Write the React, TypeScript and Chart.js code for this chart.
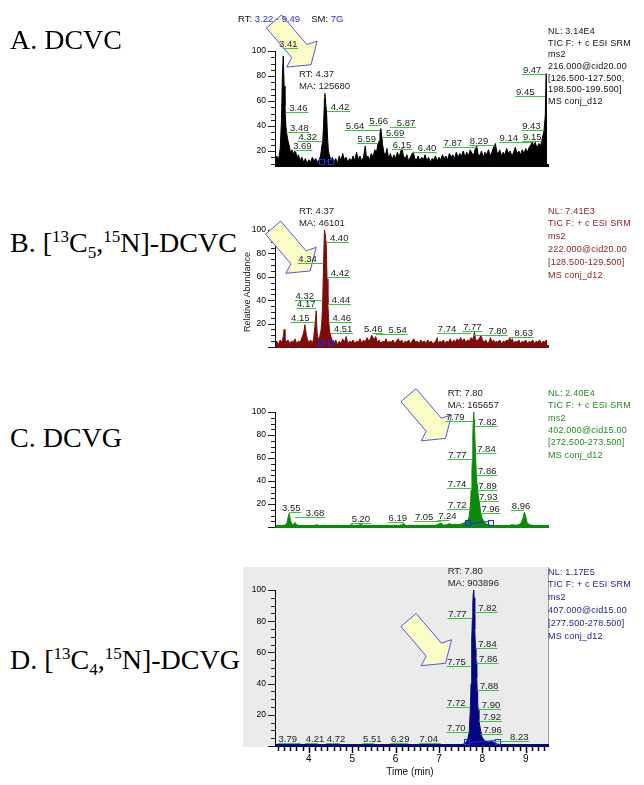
import React, { useEffect, useRef } from "react";
import { Chart, registerables } from "chart.js";
Chart.register(...registerables);

const T_MIN = 3.22;
const T_MAX = 9.49;
const Y_TICKS = [20, 40, 60, 80, 100];
const X_TICKS = [4, 5, 6, 7, 8, 9];

// ---- chromatogram traces: [time (min), relative abundance %] ----
const traceA: [number, number][] = [
  [3.22, 12], [3.26, 16], [3.30, 13], [3.34, 22], [3.37, 45], [3.39, 80], [3.41, 96], [3.43, 72], [3.45, 56], [3.47, 40],
  [3.49, 34], [3.52, 28], [3.55, 24], [3.58, 18], [3.61, 21], [3.64, 17], [3.67, 20], [3.70, 19], [3.73, 14], [3.76, 17],
  [3.80, 12], [3.84, 15], [3.88, 11], [3.92, 14], [3.96, 10], [4.00, 13], [4.04, 11], [4.08, 15], [4.12, 12], [4.16, 14],
  [4.20, 11], [4.24, 13], [4.27, 16], [4.30, 24], [4.32, 28], [4.34, 40], [4.36, 62], [4.37, 66], [4.39, 58], [4.41, 50],
  [4.43, 32], [4.45, 20], [4.48, 16], [4.51, 12], [4.54, 15], [4.58, 11], [4.62, 14], [4.66, 10], [4.70, 16], [4.74, 12],
  [4.78, 18], [4.82, 13], [4.86, 15], [4.90, 11], [4.94, 14], [4.98, 12], [5.02, 16], [5.06, 12], [5.10, 19], [5.14, 13],
  [5.18, 16], [5.22, 12], [5.26, 15], [5.30, 24], [5.33, 14], [5.36, 16], [5.40, 13], [5.44, 18], [5.48, 15], [5.52, 21],
  [5.56, 19], [5.59, 25], [5.62, 28], [5.64, 34], [5.66, 38], [5.68, 32], [5.70, 25], [5.73, 19], [5.76, 16], [5.80, 22],
  [5.84, 14], [5.88, 18], [5.92, 13], [5.96, 17], [6.00, 14], [6.04, 19], [6.08, 15], [6.12, 20], [6.15, 22], [6.18, 16],
  [6.22, 14], [6.26, 17], [6.30, 12], [6.34, 15], [6.38, 18], [6.41, 19], [6.44, 14], [6.48, 13], [6.52, 16], [6.56, 12],
  [6.60, 15], [6.64, 13], [6.68, 17], [6.72, 12], [6.76, 15], [6.80, 11], [6.84, 14], [6.88, 13], [6.92, 16], [6.96, 12],
  [7.00, 15], [7.04, 13], [7.08, 17], [7.12, 14], [7.16, 16], [7.20, 13], [7.24, 18], [7.28, 15], [7.32, 17], [7.36, 14],
  [7.40, 19], [7.44, 15], [7.48, 18], [7.52, 16], [7.56, 20], [7.60, 15], [7.64, 19], [7.68, 16], [7.72, 21], [7.76, 18],
  [7.80, 17], [7.84, 22], [7.87, 24], [7.90, 18], [7.94, 16], [7.98, 20], [8.02, 15], [8.06, 19], [8.10, 17], [8.14, 21],
  [8.18, 16], [8.22, 19], [8.26, 23], [8.30, 26], [8.33, 20], [8.36, 17], [8.40, 21], [8.44, 16], [8.48, 19], [8.52, 17],
  [8.56, 22], [8.60, 18], [8.64, 20], [8.68, 16], [8.72, 19], [8.76, 23], [8.80, 18], [8.84, 20], [8.88, 17], [8.92, 21],
  [8.96, 18], [9.00, 22], [9.04, 19], [9.08, 23], [9.12, 25], [9.15, 28], [9.18, 24], [9.22, 27], [9.26, 22], [9.30, 26],
  [9.34, 24], [9.38, 30], [9.42, 36], [9.45, 48], [9.47, 82], [9.49, 52],
];

const traceB: [number, number][] = [
  [3.22, 3], [3.26, 5], [3.30, 2], [3.34, 6], [3.38, 4], [3.41, 9], [3.43, 15], [3.45, 8], [3.48, 4], [3.52, 6],
  [3.56, 3], [3.60, 5], [3.64, 4], [3.68, 7], [3.72, 3], [3.76, 5], [3.80, 4], [3.84, 8], [3.88, 12], [3.91, 19],
  [3.94, 11], [3.97, 6], [4.00, 4], [4.04, 6], [4.08, 3], [4.11, 7], [4.14, 18], [4.17, 31], [4.19, 12], [4.22, 6],
  [4.25, 9], [4.28, 14], [4.30, 22], [4.32, 40], [4.34, 72], [4.36, 100], [4.38, 96], [4.40, 88], [4.42, 58], [4.44, 36],
  [4.46, 21], [4.48, 13], [4.51, 9], [4.54, 5], [4.58, 3], [4.62, 6], [4.66, 2], [4.70, 5], [4.74, 3], [4.78, 7],
  [4.82, 4], [4.86, 9], [4.90, 3], [4.94, 5], [4.98, 4], [5.02, 6], [5.06, 3], [5.10, 5], [5.14, 4], [5.18, 7],
  [5.22, 3], [5.26, 6], [5.30, 4], [5.34, 8], [5.38, 5], [5.42, 7], [5.45, 10], [5.48, 8], [5.51, 6], [5.54, 9],
  [5.58, 4], [5.62, 6], [5.66, 3], [5.70, 5], [5.74, 4], [5.78, 7], [5.82, 3], [5.86, 5], [5.90, 4], [5.94, 6],
  [5.98, 3], [6.02, 5], [6.06, 7], [6.10, 4], [6.14, 6], [6.18, 3], [6.22, 5], [6.26, 4], [6.30, 6], [6.34, 3],
  [6.38, 5], [6.42, 7], [6.46, 4], [6.50, 5], [6.54, 3], [6.58, 6], [6.62, 4], [6.66, 5], [6.70, 3], [6.74, 6],
  [6.78, 4], [6.82, 5], [6.86, 3], [6.90, 4], [6.94, 6], [6.96, 8], [6.98, 3], [7.02, 5], [7.06, 4], [7.10, 6],
  [7.14, 3], [7.18, 5], [7.22, 4], [7.26, 7], [7.30, 3], [7.34, 6], [7.38, 4], [7.42, 7], [7.46, 5], [7.50, 8],
  [7.54, 5], [7.58, 7], [7.62, 4], [7.66, 6], [7.70, 5], [7.74, 8], [7.77, 6], [7.80, 9], [7.82, 13], [7.84, 7],
  [7.87, 5], [7.90, 6], [7.94, 8], [7.97, 10], [8.00, 6], [8.04, 4], [8.08, 6], [8.12, 3], [8.16, 5], [8.19, 8],
  [8.22, 4], [8.26, 6], [8.29, 3], [8.32, 5], [8.36, 4], [8.40, 6], [8.44, 3], [8.48, 5], [8.52, 4], [8.56, 6],
  [8.60, 5], [8.63, 8], [8.66, 5], [8.69, 7], [8.72, 3], [8.76, 5], [8.80, 4], [8.84, 6], [8.88, 3], [8.92, 5],
  [8.96, 4], [9.00, 6], [9.04, 3], [9.08, 5], [9.12, 4], [9.16, 6], [9.20, 3], [9.24, 5], [9.28, 4], [9.32, 6],
  [9.36, 3], [9.40, 5], [9.44, 4], [9.47, 6], [9.49, 3],
];

const traceC: [number, number][] = [
  [3.22, 1], [3.30, 1.5], [3.38, 1], [3.46, 2], [3.50, 4], [3.53, 10], [3.55, 12], [3.57, 7], [3.60, 3], [3.64, 2],
  [3.68, 4], [3.72, 2], [3.78, 1], [3.86, 1.5], [3.94, 1], [4.02, 1.5], [4.10, 1], [4.18, 2], [4.26, 1], [4.34, 1.5],
  [4.42, 1], [4.50, 1.5], [4.58, 1], [4.66, 1.5], [4.74, 1], [4.82, 1.5], [4.90, 1], [4.98, 2], [5.06, 1], [5.14, 1.5],
  [5.20, 2.5], [5.26, 1], [5.34, 1.5], [5.42, 1], [5.50, 1.5], [5.58, 1], [5.66, 1.5], [5.74, 1], [5.82, 1.5], [5.90, 1],
  [5.98, 1.5], [6.06, 1], [6.14, 2], [6.19, 3], [6.24, 1], [6.32, 1.5], [6.40, 1], [6.48, 1.5], [6.56, 1], [6.64, 1.5],
  [6.72, 1], [6.80, 1.5], [6.88, 1], [6.96, 2], [7.05, 3.5], [7.10, 1.5], [7.18, 2], [7.24, 3], [7.30, 2], [7.38, 2.5],
  [7.46, 2], [7.54, 3], [7.60, 4], [7.65, 5], [7.69, 8], [7.71, 14], [7.73, 22], [7.74, 32], [7.76, 50], [7.77, 58],
  [7.78, 80], [7.79, 92], [7.80, 100], [7.81, 93], [7.82, 86], [7.84, 66], [7.86, 46], [7.88, 36], [7.89, 32], [7.91, 26],
  [7.93, 22], [7.96, 13], [7.99, 8], [8.03, 5], [8.08, 3], [8.14, 2], [8.20, 1.5], [8.28, 1], [8.36, 1.5], [8.44, 1],
  [8.52, 1.5], [8.60, 1], [8.68, 2], [8.76, 1.5], [8.84, 2], [8.90, 4], [8.94, 8], [8.97, 13], [9.00, 9], [9.03, 4],
  [9.08, 2], [9.16, 1.5], [9.24, 1], [9.32, 1.5], [9.40, 1], [9.49, 1],
];

const traceD: [number, number][] = [
  [3.22, 0.5], [3.40, 0.5], [3.60, 0.8], [3.79, 1.2], [3.95, 0.5], [4.21, 1], [4.45, 0.5], [4.72, 1], [5.00, 0.5], [5.25, 0.6],
  [5.51, 1], [5.80, 0.5], [6.05, 0.6], [6.29, 1], [6.60, 0.5], [6.85, 0.6], [7.04, 1], [7.30, 0.6], [7.50, 0.8], [7.60, 1.5],
  [7.66, 4], [7.69, 8], [7.70, 10], [7.72, 22], [7.74, 40], [7.75, 52], [7.76, 68], [7.77, 82], [7.78, 92], [7.79, 98],
  [7.80, 100], [7.81, 95], [7.82, 86], [7.83, 75], [7.84, 63], [7.85, 57], [7.86, 54], [7.87, 44], [7.88, 36], [7.89, 29],
  [7.90, 24], [7.92, 17], [7.94, 13], [7.96, 10], [7.99, 6], [8.03, 4], [8.08, 3], [8.15, 2.5], [8.23, 3], [8.30, 1.5],
  [8.40, 1], [8.60, 0.6], [8.80, 0.5], [9.00, 0.6], [9.20, 0.5], [9.49, 0.5],
];

// ---- peak labels: [text, retention time, label level %, text offset px] ----
const labelsA: [string, number, number, number][] = [
  ["3.41", 3.41, 102, 5], ["3.46", 3.46, 51, 13], ["3.48", 3.48, 35.5, 13], ["3.69", 3.69, 20.5, 7],
  ["4.32", 4.32, 28, -15], ["4.42", 4.42, 52, 13], ["5.64", 5.64, 37, -25], ["5.66", 5.66, 41, -2],
  ["5.87", 5.87, 39, 16], ["5.59", 5.59, 26.6, -11], ["5.69", 5.69, 31, 13], ["6.15", 6.15, 22, 0],
  ["6.40", 6.40, 19, 14], ["7.87", 7.87, 23, -24], ["8.29", 8.29, 25, -16], ["9.14", 9.14, 27, -23],
  ["9.15", 9.15, 28, 0], ["9.43", 9.43, 37, -13], ["9.45", 9.45, 64, -20], ["9.47", 9.47, 81.5, -14],
];
const labelsB: [string, number, number, number][] = [
  ["4.40", 4.40, 90, 13], ["4.34", 4.34, 72, -16], ["4.42", 4.42, 60, 13], ["4.32", 4.32, 40, -18],
  ["4.44", 4.44, 36.5, 13], ["4.17", 4.17, 33, -10], ["4.15", 4.15, 21, -15], ["4.46", 4.46, 21, 13],
  ["4.51", 4.51, 12, 12], ["5.46", 5.46, 12, 1], ["5.54", 5.54, 11.5, 22], ["7.74", 7.74, 12, -24],
  ["7.77", 7.77, 14, 0], ["7.80", 7.80, 10, 24], ["8.63", 8.63, 8.5, 14],
];
const labelsC: [string, number, number, number][] = [
  ["7.79", 7.79, 92, -18], ["7.82", 7.82, 88, 13], ["7.84", 7.84, 64, 11], ["7.77", 7.77, 59, -15],
  ["7.86", 7.86, 45, 11], ["7.74", 7.74, 34, -14], ["7.89", 7.89, 32, 10], ["7.93", 7.93, 23, 9],
  ["7.72", 7.72, 16, -13], ["7.96", 7.96, 12, 10], ["8.96", 8.96, 14.5, -3], ["3.55", 3.55, 13, 2],
  ["3.68", 3.68, 9, 20], ["5.20", 5.20, 3.5, 0], ["6.19", 6.19, 4, -6], ["7.05", 7.05, 5, -17], ["7.24", 7.24, 6, -2],
];
const labelsD: [string, number, number, number][] = [
  ["7.77", 7.77, 82, -15], ["7.82", 7.82, 86, 13], ["7.84", 7.84, 63, 12], ["7.75", 7.75, 51.5, -15],
  ["7.86", 7.86, 53, 12], ["7.88", 7.88, 36, 12], ["7.72", 7.72, 25, -14], ["7.90", 7.90, 24, 13],
  ["7.92", 7.92, 16, 13], ["7.70", 7.70, 9, -13], ["7.96", 7.96, 8, 12], ["8.23", 8.23, 3, 27],
  ["3.79", 3.79, 2, -12], ["4.21", 4.21, 2, -3], ["4.72", 4.72, 2, -4], ["5.51", 5.51, 2, -2],
  ["6.29", 6.29, 2, -8], ["7.04", 7.04, 2, -12],
];

// ---- apex annotations: [rt, apex %, line1, line2] ----
const peakA: [number, number, string, string] = [4.37, 66, "RT: 4.37", "MA: 125680"];
const peakB: [number, number, string, string] = [4.37, 100, "RT: 4.37", "MA: 46101"];
const peakC: [number, number, string, string] = [7.80, 100, "RT: 7.80", "MA: 165657"];
const peakD: [number, number, string, string] = [7.80, 100, "RT: 7.80", "MA: 903896"];

// arrow tips [rt, %] and integration windows [start, end]
const arrowA: [number, number] = [4.05, 89];
const arrowB: [number, number] = [4.03, 65];
const arrowC: [number, number] = [7.15, 77];
const arrowD: [number, number] = [7.15, 53];
const integA: [number, number] = [4.30, 4.50];
const integB: [number, number] = [4.29, 4.52];
const integC: [number, number] = [7.66, 8.19];
const integD: [number, number] = [7.65, 8.35];

const infoA = ["NL: 3.14E4", "TIC F: + c ESI SRM", "ms2", "216.000@cid20.00", "[126.500-127.500,", "198.500-199.500]", "MS conj_d12"];
const infoB = ["NL: 7.41E3", "TIC F: + c ESI SRM", "ms2", "222.000@cid20.00", "[128.500-129.500]", "MS conj_d12"];
const infoC = ["NL: 2.40E4", "TIC F: + c ESI SRM", "ms2", "402.000@cid15.00", "[272.500-273.500]", "MS conj_d12"];
const infoD = ["NL: 1.17E5", "TIC F: + c ESI SRM", "ms2", "407.000@cid15.00", "[277.500-278.500]", "MS conj_d12"];

const SANS = '"Liberation Sans", Arial, sans-serif';
const SERIF = '"Liberation Serif", "Times New Roman", serif';

type PanelCfg = {
  trace: [number, number][];
  labels: [string, number, number, number][];
  peak: [number, number, string, string];
  arrow: [number, number];
  integ: [number, number];
  color: string;
  yMin: number;
  top: number;
  height: number;
  padTop: number;
  padBottom: number;
  xAxis: boolean;
};

const PANELS: PanelCfg[] = [
  { trace: traceA, labels: labelsA, peak: peakA, arrow: arrowA, integ: integA, color: "#000000", yMin: 8, top: 0, height: 207, padTop: 51, padBottom: 2, xAxis: false },
  { trace: traceB, labels: labelsB, peak: peakB, arrow: arrowB, integ: integB, color: "#7e0a0a", yMin: 0, top: 200, height: 190, padTop: 30, padBottom: 4, xAxis: false },
  { trace: traceC, labels: labelsC, peak: peakC, arrow: arrowC, integ: integC, color: "#0c8a0c", yMin: 0, top: 385, height: 185, padTop: 27, padBottom: 4, xAxis: false },
  { trace: traceD, labels: labelsD, peak: peakD, arrow: arrowD, integ: integD, color: "#08087e", yMin: 0, top: 560, height: 225, padTop: 30, padBottom: 0, xAxis: true },
];

function makeDecor(cfg: PanelCfg) {
  return {
    id: "decor",
    afterDatasetsDraw(chart: any) {
      const { ctx, chartArea: ca, scales } = chart;
      const xs = scales.x;
      const ys = scales.y;
      ctx.save();
      // baseline
      ctx.fillStyle = cfg.color;
      ctx.fillRect(ca.left, ca.bottom - 2, ca.right - ca.left + 2, 3);
      // y axis line + ticks
      ctx.strokeStyle = "#000";
      ctx.lineWidth = 1;
      ctx.beginPath();
      ctx.moveTo(ca.left + 0.5, ca.top);
      ctx.lineTo(ca.left + 0.5, ca.bottom);
      ctx.stroke();
      ctx.strokeStyle = "#222";
      for (let k = Math.ceil(cfg.yMin / 5); k <= 20; k++) {
        const v = k * 5;
        const py = Math.round(ys.getPixelForValue(v)) + 0.5;
        const len = v % 20 === 0 ? 7 : 4;
        ctx.beginPath();
        ctx.moveTo(ca.left - len, py);
        ctx.lineTo(ca.left, py);
        ctx.stroke();
      }
      // x ticks (bottom panel only)
      if (cfg.xAxis) {
        ctx.strokeStyle = "#000";
        ctx.lineWidth = 1.5;
        for (let k = Math.ceil(T_MIN * 7); k <= Math.floor(T_MAX * 7); k++) {
          const px = Math.round(xs.getPixelForValue(k / 7)) + 0.5;
          const len = k % 7 === 0 ? 6 : 4;
          ctx.beginPath();
          ctx.moveTo(px, ca.bottom + 1);
          ctx.lineTo(px, ca.bottom + 1 + len);
          ctx.stroke();
        }
      }
      // arrow
      const [at, av] = cfg.arrow;
      const tx = xs.getPixelForValue(at);
      const ty = ys.getPixelForValue(av);
      const d = [0.649, 0.76];
      const n = [-0.76, 0.649];
      const shape = [[0, 0], [14, 20], [18, 10], [57, 10], [57, -10], [18, -10], [14, -20]];
      ctx.beginPath();
      shape.forEach(([a, p], i) => {
        const X = tx - a * d[0] + p * n[0];
        const Y = ty - a * d[1] + p * n[1];
        if (i === 0) ctx.moveTo(X, Y);
        else ctx.lineTo(X, Y);
      });
      ctx.closePath();
      ctx.fillStyle = "#fcfcc6";
      ctx.fill();
      ctx.strokeStyle = "#5252f0";
      ctx.lineWidth = 1;
      ctx.stroke();
      // integration markers
      const [i1, i2] = cfg.integ;
      const x1 = xs.getPixelForValue(i1);
      const x2 = xs.getPixelForValue(i2);
      const by = Math.round(ca.bottom - 4) + 0.5;
      ctx.strokeStyle = "#1a2aee";
      ctx.strokeRect(Math.round(x1) - 2.5, by - 3, 5, 5);
      ctx.strokeRect(Math.round(x2) - 2.5, by - 3, 5, 5);
      ctx.beginPath();
      ctx.moveTo(x1 + 2.5, by);
      ctx.lineTo(x2 - 2.5, by - 2);
      ctx.stroke();
      // peak labels
      ctx.font = `9.5px ${SANS}`;
      ctx.textAlign = "center";
      ctx.textBaseline = "alphabetic";
      for (const [text, t, v, dx] of cfg.labels) {
        const px = xs.getPixelForValue(t);
        const py = Math.round(ys.getPixelForValue(v)) + 0.5;
        const cx = px + dx;
        ctx.strokeStyle = "#3cc43c";
        ctx.lineWidth = 1;
        ctx.beginPath();
        if (dx === 0) {
          ctx.moveTo(px - 10, py);
          ctx.lineTo(px + 10, py);
        } else {
          ctx.moveTo(px, py);
          ctx.lineTo(cx + Math.sign(dx) * 10, py);
        }
        ctx.stroke();
        ctx.fillStyle = "#1e1e1e";
        ctx.fillText(text, cx, py - 2);
      }
      // apex RT / MA
      const [pt, pv, l1, l2] = cfg.peak;
      const lx = xs.getPixelForValue(pt) - 26;
      const ly = ys.getPixelForValue(pv);
      ctx.textAlign = "left";
      ctx.textBaseline = "middle";
      ctx.fillStyle = "#1e1e1e";
      ctx.fillText(l1, lx, ly - 19);
      ctx.fillText(l2, lx, ly - 7);
      ctx.restore();
    },
  };
}

function Panel({ cfg }: { cfg: PanelCfg }) {
  const ref = useRef<HTMLCanvasElement>(null);
  useEffect(() => {
    const chart = new Chart(ref.current as HTMLCanvasElement, {
      type: "line",
      data: {
        datasets: [
          {
            data: cfg.trace.map(([x, y]) => ({ x, y })),
            borderColor: cfg.color,
            backgroundColor: cfg.color,
            borderWidth: 1,
            pointRadius: 0,
            fill: "start",
            tension: 0,
          },
        ],
      },
      options: {
        animation: false,
        responsive: false,
        layout: { padding: { top: cfg.padTop, bottom: cfg.padBottom, left: 0, right: 2 } },
        plugins: { legend: { display: false }, tooltip: { enabled: false } },
        scales: {
          x: {
            type: "linear",
            min: T_MIN,
            max: T_MAX,
            display: cfg.xAxis,
            afterBuildTicks: (s: any) => {
              s.ticks = X_TICKS.map((v) => ({ value: v }));
            },
            afterFit: (s: any) => {
              s.height = 39;
            },
            grid: { display: false, drawTicks: false },
            border: { display: false },
            ticks: {
              padding: 7,
              color: "#000",
              font: { family: SANS, size: 10 },
              maxRotation: 0,
              autoSkip: false,
              callback: (v: any) => String(v),
            },
          },
          y: {
            type: "linear",
            min: cfg.yMin,
            max: 100,
            afterBuildTicks: (s: any) => {
              s.ticks = Y_TICKS.map((v) => ({ value: v }));
            },
            afterFit: (s: any) => {
              s.width = 35;
            },
            grid: { display: false, drawTicks: false },
            border: { display: false },
            ticks: {
              padding: 9,
              color: "#000",
              font: { family: SANS, size: 8.5 },
              callback: (v: any) => String(v),
            },
          },
        },
      } as any,
      plugins: [makeDecor(cfg)],
    });
    return () => chart.destroy();
  }, [cfg]);
  return (
    <canvas
      ref={ref}
      width={309}
      height={cfg.height}
      style={{ position: "absolute", left: 240, top: cfg.top, width: 309, height: cfg.height }}
    />
  );
}

function Info({ lines, top, step, color }: { lines: string[]; top: number; step: number; color: string }) {
  return (
    <div
      style={{
        position: "absolute",
        left: 548,
        top: top - step / 2,
        font: `9px ${SANS}`,
        lineHeight: `${step}px`,
        color,
        whiteSpace: "nowrap",
        letterSpacing: "0.2px",
      }}
    >
      {lines.map((l, i) => (
        <div key={i}>{l}</div>
      ))}
    </div>
  );
}

const supStyle: React.CSSProperties = { fontSize: 17, verticalAlign: "baseline", position: "relative", top: -10 };
const subStyle: React.CSSProperties = { fontSize: 17, verticalAlign: "baseline", position: "relative", top: 6 };

function BigLabel({ center, children }: { center: number; children: React.ReactNode }) {
  return (
    <div
      style={{
        position: "absolute",
        left: 10,
        top: center - 16,
        height: 32,
        font: `28px ${SERIF}`,
        lineHeight: "32px",
        color: "#000",
        whiteSpace: "nowrap",
      }}
    >
      {children}
    </div>
  );
}

export default function App() {
  return (
    <div style={{ position: "absolute", left: 0, top: 0, width: 644, height: 785, background: "#fff", overflow: "hidden" }}>
      <div style={{ position: "absolute", left: 243, top: 567, width: 305, height: 180, background: "#ebebeb", borderRight: "1px solid #a0a0a0" }} />
      {PANELS.map((p, i) => (
        <Panel key={i} cfg={p} />
      ))}
      <div style={{ position: "absolute", left: 238, top: 13, font: `9.5px ${SANS}`, lineHeight: "12px", whiteSpace: "nowrap", color: "#111" }}>
        <span>RT: </span>
        <span style={{ color: "#2a2ad0" }}>3.22 - 9.49</span>
        <span style={{ marginLeft: 11 }}>SM: </span>
        <span style={{ color: "#2a2ad0" }}>7G</span>
      </div>
      <div
        style={{
          position: "absolute",
          left: 247 - 50,
          top: 292 - 6,
          width: 100,
          height: 12,
          textAlign: "center",
          font: `9px ${SANS}`,
          lineHeight: "12px",
          transform: "rotate(-90deg)",
          whiteSpace: "nowrap",
          color: "#111",
        }}
      >
        Relative Abundance
      </div>
      <div style={{ position: "absolute", left: 360, top: 766, width: 100, textAlign: "center", font: `10px ${SANS}`, lineHeight: "12px", color: "#111" }}>
        Time (min)
      </div>
      <Info lines={infoA} top={32} step={11.6} color="#111" />
      <Info lines={infoB} top={211} step={12.8} color="#8b1a1a" />
      <Info lines={infoC} top={393} step={12.4} color="#1f8c1f" />
      <Info lines={infoD} top={572} step={12.8} color="#1c1c8c" />
      <BigLabel center={40}>A. DCVC</BigLabel>
      <BigLabel center={243}>
        B. [<span style={supStyle}>13</span>C<span style={subStyle}>5</span>,<span style={supStyle}>15</span>N]-DCVC
      </BigLabel>
      <BigLabel center={438}>C. DCVG</BigLabel>
      <BigLabel center={660}>
        D. [<span style={supStyle}>13</span>C<span style={subStyle}>4</span>,<span style={supStyle}>15</span>N]-DCVG
      </BigLabel>
    </div>
  );
}
